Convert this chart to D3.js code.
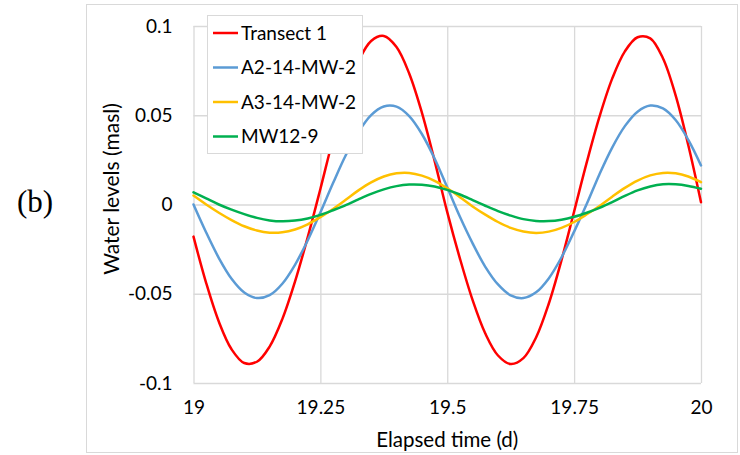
<!DOCTYPE html>
<html>
<head>
<meta charset="utf-8">
<script src="https://cdn.jsdelivr.net/npm/d3@7"></script>
<style>
  html, body { margin: 0; padding: 0; background: #fff; }
  svg { display: block; }
  text { fill: #000; }
</style>
</head>
<body>
<svg id="chart" width="740" height="455"></svg>
<script>
// Elapsed time (d), sampled every 0.025 d
const time = d3.range(0, 41).map(i => 19 + i * 0.025);

// Water levels (masl)
const transect1 = [
  -0.0180, -0.0440, -0.0657, -0.0811, -0.0888, -0.0881, -0.0796, -0.0642, -0.0432, -0.0184,
   0.0087,  0.0367,  0.0613,  0.0802,  0.0916,  0.0944,  0.0882,  0.0734,  0.0515,  0.0246,
  -0.0043, -0.0303, -0.0536, -0.0723, -0.0846, -0.0894, -0.0861, -0.0745, -0.0556, -0.0313,
  -0.0039,  0.0237,  0.0492,  0.0705,  0.0858,  0.0937,  0.0931,  0.0819,  0.0611,  0.0332,
   0.0013
];
const a2_14_mw_2 = [
   0.0000, -0.0157, -0.0300, -0.0416, -0.0493, -0.0524, -0.0508, -0.0444, -0.0338, -0.0201,
  -0.0045,  0.0120,  0.0276,  0.0406,  0.0501,  0.0549,  0.0548,  0.0495,  0.0395,  0.0258,
   0.0096, -0.0069, -0.0218, -0.0349, -0.0448, -0.0509, -0.0524, -0.0492, -0.0414, -0.0297,
  -0.0152,  0.0004,  0.0170,  0.0319,  0.0439,  0.0520,  0.0554,  0.0538,  0.0473,  0.0362,
   0.0219
];
const a3_14_mw_2 = [
   0.0050,  0.0000, -0.0046, -0.0087, -0.0122, -0.0146, -0.0158, -0.0156, -0.0140, -0.0111,
  -0.0071, -0.0025,  0.0026,  0.0079,  0.0124,  0.0157,  0.0175,  0.0177,  0.0162,  0.0133,
   0.0091,  0.0041, -0.0011, -0.0057, -0.0098, -0.0131, -0.0151, -0.0159, -0.0152, -0.0131,
  -0.0098, -0.0055, -0.0008,  0.0044,  0.0093,  0.0134,  0.0163,  0.0177,  0.0175,  0.0157,
   0.0125
];
const mw12_9 = [
   0.0068,  0.0034,  0.0000, -0.0029, -0.0054, -0.0075, -0.0089, -0.0094, -0.0090, -0.0078,
  -0.0058, -0.0032, -0.0004,  0.0029,  0.0060,  0.0085,  0.0103,  0.0112,  0.0111,  0.0101,
   0.0082,  0.0056,  0.0025, -0.0007, -0.0037, -0.0062, -0.0082, -0.0092, -0.0093, -0.0085,
  -0.0069, -0.0046, -0.0019,  0.0013,  0.0048,  0.0079,  0.0101,  0.0113,  0.0113,  0.0104,
   0.0088
];

const seriesNames  = ["Transect 1", "A2-14-MW-2", "A3-14-MW-2", "MW12-9"];
const seriesValues = [transect1, a2_14_mw_2, a3_14_mw_2, mw12_9];
const seriesColors = ["#ff0000", "#5b9bd5", "#ffc000", "#00b050"];

const xTicks = [19, 19.25, 19.5, 19.75, 20];
const xTickLabels = ["19", "19.25", "19.5", "19.75", "20"];
const yTicks = [-0.1, -0.05, 0, 0.05, 0.1];
const yTickLabels = ["-0.1", "-0.05", "0", "0.05", "0.1"];

const sansFont = "Lato, 'Open Sans', sans-serif";
const serifFont = "'Liberation Serif', 'Times New Roman', serif";

const svg = d3.select("#chart");
const gridColor = "#d9d9d9";

// outer chart frame
svg.append("rect")
  .attr("x", 86.5).attr("y", 4.5).attr("width", 651).attr("height", 448)
  .attr("fill", "#fff").attr("stroke", gridColor).attr("stroke-width", 1);

const plot = { left: 193.5, right: 701, top: 26, bottom: 383 };

const x = d3.scaleLinear().domain([19, 20]).range([plot.left, plot.right]);
const y = d3.scaleLinear().domain([-0.1, 0.1]).range([plot.bottom, plot.top]);

// gridlines
const yGrid = svg.append("g")
  .attr("transform", `translate(${plot.left},0)`)
  .call(d3.axisLeft(y).tickValues(yTicks).tickSize(-(plot.right - plot.left)).tickFormat(""));
yGrid.select(".domain").remove();
yGrid.selectAll("line").attr("stroke", gridColor).attr("stroke-width", 1.3);

const xGrid = svg.append("g")
  .attr("transform", `translate(0,${plot.bottom})`)
  .call(d3.axisBottom(x).tickValues(xTicks).tickSize(-(plot.bottom - plot.top)).tickFormat(""));
xGrid.select(".domain").remove();
xGrid.selectAll("line").attr("stroke", gridColor).attr("stroke-width", 1.3);

// tick labels
const yAxis = svg.append("g")
  .attr("transform", `translate(${plot.left},0)`)
  .call(d3.axisLeft(y).tickValues(yTicks).tickSize(0).tickPadding(21)
    .tickFormat((d, i) => yTickLabels[i]));
yAxis.select(".domain").remove();
yAxis.selectAll("text").style("font-family", sansFont).style("font-size", "19px").attr("fill", "#000");

const xAxis = svg.append("g")
  .attr("transform", `translate(0,${plot.bottom})`)
  .call(d3.axisBottom(x).tickValues(xTicks).tickSize(0).tickPadding(18)
    .tickFormat((d, i) => xTickLabels[i]));
xAxis.select(".domain").remove();
xAxis.selectAll("text").style("font-family", sansFont).style("font-size", "19px").attr("fill", "#000");

// axis titles
svg.append("text")
  .attr("x", (plot.left + plot.right) / 2).attr("y", 447)
  .attr("text-anchor", "middle")
  .style("font-family", sansFont).style("font-size", "20.5px")
  .text("Elapsed time (d)");

svg.append("text")
  .attr("transform", "translate(119,189) rotate(-90)")
  .attr("text-anchor", "middle")
  .style("font-family", sansFont).style("font-size", "21px")
  .text("Water levels (masl)");

// panel label
svg.append("text")
  .attr("x", 17).attr("y", 212)
  .style("font-family", serifFont).style("font-size", "31px")
  .text("(b)");

// series lines
const line = d3.line()
  .x((d, i) => x(time[i]))
  .y(d => y(d))
  .curve(d3.curveCatmullRom.alpha(0.5));

svg.append("g").selectAll("path")
  .data(seriesValues)
  .join("path")
  .attr("d", d => line(d))
  .attr("fill", "none")
  .attr("stroke", (d, i) => seriesColors[i])
  .attr("stroke-width", 2.5)
  .attr("stroke-linejoin", "round")
  .attr("stroke-linecap", "round");

// legend
const legend = svg.append("g");
legend.append("rect")
  .attr("x", 207.5).attr("y", 15.5).attr("width", 155).attr("height", 138)
  .attr("fill", "#fff").attr("stroke", gridColor).attr("stroke-width", 1);

const legendRowY = d3.scaleLinear().domain([0, 3]).range([33, 136.5]);
const rows = legend.selectAll("g.row")
  .data(seriesNames)
  .join("g")
  .attr("class", "row")
  .attr("transform", (d, i) => `translate(0,${legendRowY(i)})`);
rows.append("line")
  .attr("x1", 213).attr("x2", 238).attr("y1", 0).attr("y2", 0)
  .attr("stroke", (d, i) => seriesColors[i]).attr("stroke-width", 2.5);
rows.append("text")
  .attr("x", 241).attr("y", 0).attr("dy", "0.35em")
  .style("font-family", sansFont).style("font-size", "19px")
  .text(d => d);
</script>
</body>
</html>
